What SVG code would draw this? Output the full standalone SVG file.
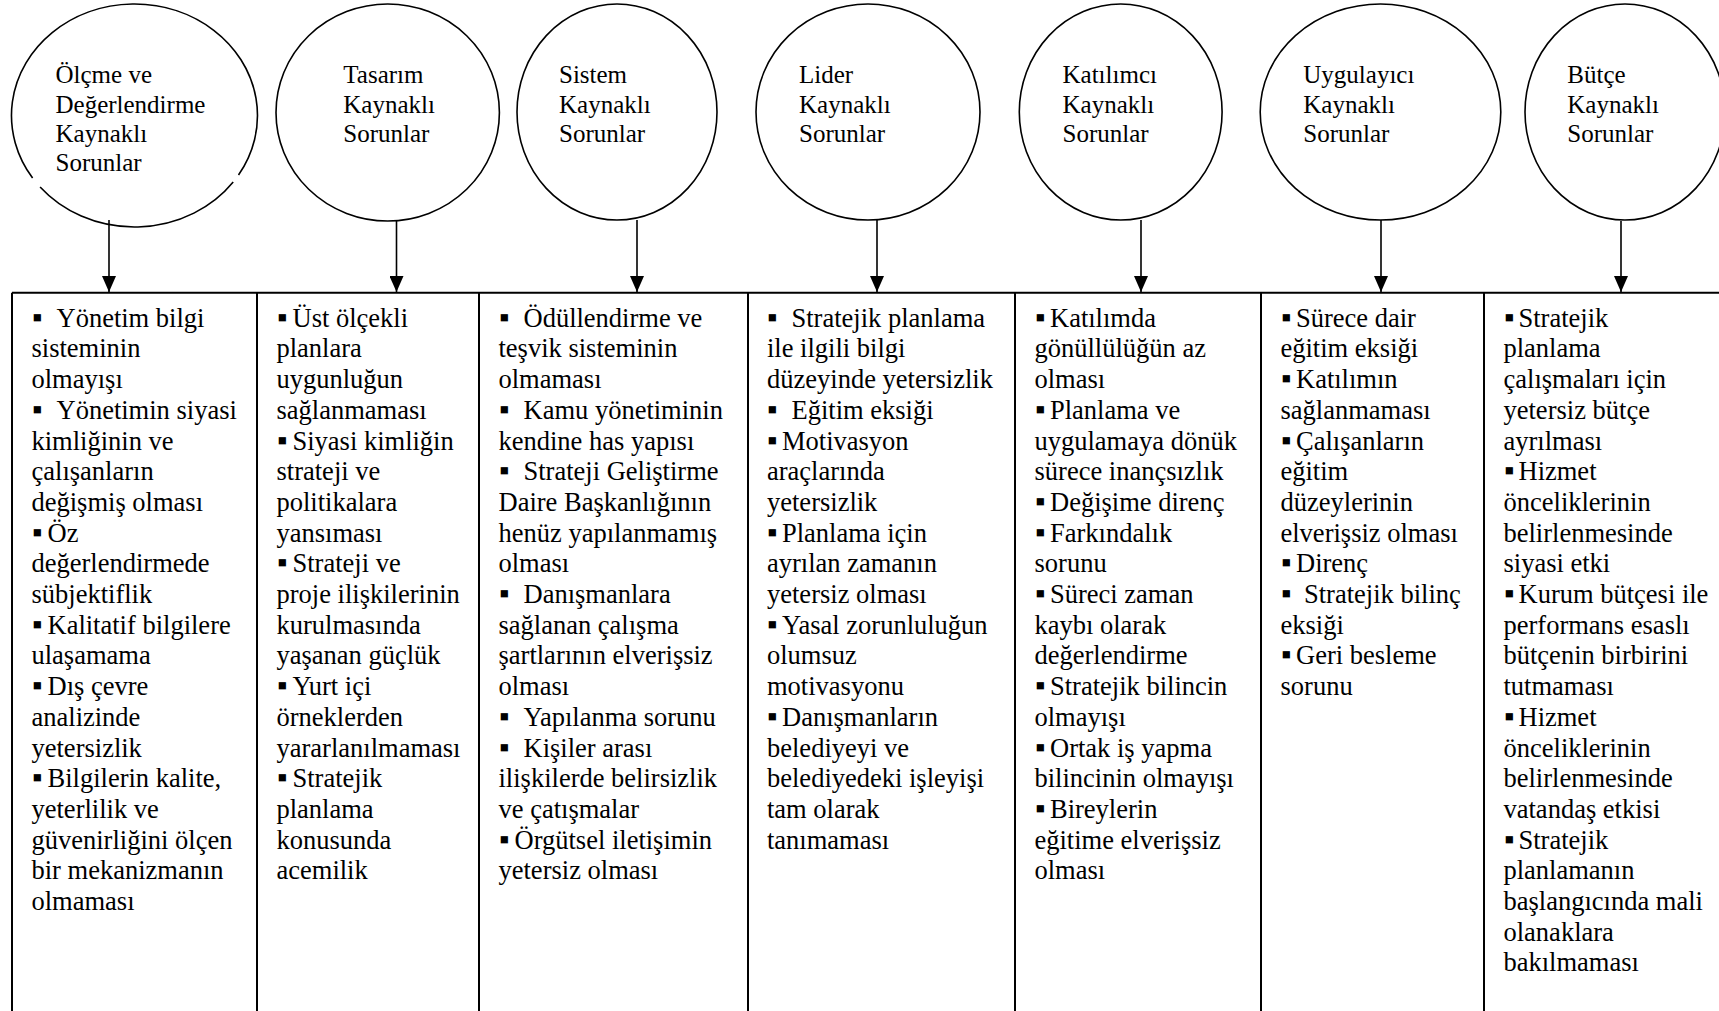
<svg xmlns="http://www.w3.org/2000/svg" width="1719" height="1011" viewBox="0 0 1719 1011">
<style>
.bg{fill:#fff}
.circ{fill:none;stroke:#000;stroke-width:1.6}
.grid{stroke:#000;stroke-width:2;fill:none}
.conn{stroke:#000;stroke-width:1.6;fill:none}
.c{font-family:"Liberation Serif","Times New Roman",serif;font-size:25px;fill:#000}
.t{font-family:"Liberation Serif","Times New Roman",serif;font-size:26.5px;fill:#000}
.bu{font-size:29px}
</style>
<defs>
<marker id="ah" markerUnits="userSpaceOnUse" viewBox="0 0 16 14" markerWidth="16" markerHeight="14" refX="16" refY="7" orient="auto">
<path d="M0,0 L16,7 L0,14 Z" fill="#000"/>
</marker>
</defs>
<rect class="bg" x="0" y="0" width="1719" height="1011"/>

<g id="node-olcme">
<path class="circ" d="M32.6,178 A123,111.5 0 1 1 238.5,175 M233.2,182 A123,111.5 0 0 1 40.1,187"/>
<text class="c"><tspan x="55.5" y="83">Ölçme ve</tspan><tspan x="55.5" y="112.5">Değerlendirme</tspan><tspan x="55.5" y="142">Kaynaklı</tspan><tspan x="55.5" y="171">Sorunlar</tspan></text>
</g>
<g id="node-tasarim">
<ellipse class="circ" cx="387.7" cy="112.5" rx="111.7" ry="108.5"/>
<text class="c"><tspan x="343.3" y="83">Tasarım</tspan><tspan x="343.3" y="112.5">Kaynaklı</tspan><tspan x="343.3" y="142">Sorunlar</tspan></text>
</g>
<g id="node-sistem">
<ellipse class="circ" cx="617" cy="112" rx="100" ry="108"/>
<text class="c"><tspan x="559" y="83">Sistem</tspan><tspan x="559" y="112.5">Kaynaklı</tspan><tspan x="559" y="142">Sorunlar</tspan></text>
</g>
<g id="node-lider">
<ellipse class="circ" cx="868" cy="112" rx="112" ry="108"/>
<text class="c"><tspan x="799" y="83">Lider</tspan><tspan x="799" y="112.5">Kaynaklı</tspan><tspan x="799" y="142">Sorunlar</tspan></text>
</g>
<g id="node-katilimci">
<ellipse class="circ" cx="1120.7" cy="112" rx="101.4" ry="108"/>
<text class="c"><tspan x="1062.5" y="83">Katılımcı</tspan><tspan x="1062.5" y="112.5">Kaynaklı</tspan><tspan x="1062.5" y="142">Sorunlar</tspan></text>
</g>
<g id="node-uygulayici">
<ellipse class="circ" cx="1380.5" cy="112" rx="120.3" ry="108"/>
<text class="c"><tspan x="1303.3" y="83">Uygulayıcı</tspan><tspan x="1303.3" y="112.5">Kaynaklı</tspan><tspan x="1303.3" y="142">Sorunlar</tspan></text>
</g>
<g id="node-butce">
<ellipse class="circ" cx="1625" cy="112" rx="100" ry="108"/>
<text class="c"><tspan x="1567.3" y="83">Bütçe</tspan><tspan x="1567.3" y="112.5">Kaynaklı</tspan><tspan x="1567.3" y="142">Sorunlar</tspan></text>
</g>

<g id="connectors">
<line class="conn" x1="109" y1="220" x2="109" y2="292" marker-end="url(#ah)"/>
<line class="conn" x1="396.5" y1="221" x2="396.5" y2="292" marker-end="url(#ah)"/>
<line class="conn" x1="637" y1="220" x2="637" y2="292" marker-end="url(#ah)"/>
<line class="conn" x1="877" y1="220" x2="877" y2="292" marker-end="url(#ah)"/>
<line class="conn" x1="1141" y1="220" x2="1141" y2="292" marker-end="url(#ah)"/>
<line class="conn" x1="1381" y1="220" x2="1381" y2="292" marker-end="url(#ah)"/>
<line class="conn" x1="1621" y1="221" x2="1621" y2="292" marker-end="url(#ah)"/>
</g>

<g id="table-frame">
<path class="grid" d="M12,292.7 H1719 M12,292.7 V1011 M257,292.7 V1011 M479,292.7 V1011 M748,292.7 V1011 M1015,292.7 V1011 M1261,292.7 V1011 M1484,292.7 V1011"/>
</g>

<g id="cell-olcme">
<text class="t">
<tspan class="bu" x="32" y="326.7">▪</tspan><tspan x="56.5" y="326.7">Yönetim bilgi</tspan>
<tspan x="31.5" y="357.4">sisteminin</tspan>
<tspan x="31.5" y="388.1">olmayışı</tspan>
<tspan class="bu" x="32" y="418.8">▪</tspan><tspan x="56.5" y="418.8">Yönetimin siyasi</tspan>
<tspan x="31.5" y="449.5">kimliğinin ve</tspan>
<tspan x="31.5" y="480.2">çalışanların</tspan>
<tspan x="31.5" y="510.9">değişmiş olması</tspan>
<tspan class="bu" x="32" y="541.6">▪</tspan><tspan x="47.5" y="541.6">Öz</tspan>
<tspan x="31.5" y="572.3">değerlendirmede</tspan>
<tspan x="31.5" y="603">sübjektiflik</tspan>
<tspan class="bu" x="32" y="633.7">▪</tspan><tspan x="47.5" y="633.7">Kalitatif bilgilere</tspan>
<tspan x="31.5" y="664.4">ulaşamama</tspan>
<tspan class="bu" x="32" y="695.1">▪</tspan><tspan x="47.5" y="695.1">Dış çevre</tspan>
<tspan x="31.5" y="725.8">analizinde</tspan>
<tspan x="31.5" y="756.5">yetersizlik</tspan>
<tspan class="bu" x="32" y="787.2">▪</tspan><tspan x="47.5" y="787.2">Bilgilerin kalite,</tspan>
<tspan x="31.5" y="817.9">yeterlilik ve</tspan>
<tspan x="31.5" y="848.6">güvenirliğini ölçen</tspan>
<tspan x="31.5" y="879.3">bir mekanizmanın</tspan>
<tspan x="31.5" y="910">olmaması</tspan>
</text>
</g>

<g id="cell-tasarim">
<text class="t">
<tspan class="bu" x="277" y="326.7">▪</tspan><tspan x="292.5" y="326.7">Üst ölçekli</tspan>
<tspan x="276.5" y="357.4">planlara</tspan>
<tspan x="276.5" y="388.1">uygunluğun</tspan>
<tspan x="276.5" y="418.8">sağlanmaması</tspan>
<tspan class="bu" x="277" y="449.5">▪</tspan><tspan x="292.5" y="449.5">Siyasi kimliğin</tspan>
<tspan x="276.5" y="480.2">strateji ve</tspan>
<tspan x="276.5" y="510.9">politikalara</tspan>
<tspan x="276.5" y="541.6">yansıması</tspan>
<tspan class="bu" x="277" y="572.3">▪</tspan><tspan x="292.5" y="572.3">Strateji ve</tspan>
<tspan x="276.5" y="603">proje ilişkilerinin</tspan>
<tspan x="276.5" y="633.7">kurulmasında</tspan>
<tspan x="276.5" y="664.4">yaşanan güçlük</tspan>
<tspan class="bu" x="277" y="695.1">▪</tspan><tspan x="292.5" y="695.1">Yurt içi</tspan>
<tspan x="276.5" y="725.8">örneklerden</tspan>
<tspan x="276.5" y="756.5">yararlanılmaması</tspan>
<tspan class="bu" x="277" y="787.2">▪</tspan><tspan x="292.5" y="787.2">Stratejik</tspan>
<tspan x="276.5" y="817.9">planlama</tspan>
<tspan x="276.5" y="848.6">konusunda</tspan>
<tspan x="276.5" y="879.3">acemilik</tspan>
</text>
</g>

<g id="cell-sistem">
<text class="t">
<tspan class="bu" x="499" y="326.7">▪</tspan><tspan x="523.5" y="326.7">Ödüllendirme ve</tspan>
<tspan x="498.5" y="357.4">teşvik sisteminin</tspan>
<tspan x="498.5" y="388.1">olmaması</tspan>
<tspan class="bu" x="499" y="418.8">▪</tspan><tspan x="523.5" y="418.8">Kamu yönetiminin</tspan>
<tspan x="498.5" y="449.5">kendine has yapısı</tspan>
<tspan class="bu" x="499" y="480.2">▪</tspan><tspan x="523.5" y="480.2">Strateji Geliştirme</tspan>
<tspan x="498.5" y="510.9">Daire Başkanlığının</tspan>
<tspan x="498.5" y="541.6">henüz yapılanmamış</tspan>
<tspan x="498.5" y="572.3">olması</tspan>
<tspan class="bu" x="499" y="603">▪</tspan><tspan x="523.5" y="603">Danışmanlara</tspan>
<tspan x="498.5" y="633.7">sağlanan çalışma</tspan>
<tspan x="498.5" y="664.4">şartlarının elverişsiz</tspan>
<tspan x="498.5" y="695.1">olması</tspan>
<tspan class="bu" x="499" y="725.8">▪</tspan><tspan x="523.5" y="725.8">Yapılanma sorunu</tspan>
<tspan class="bu" x="499" y="756.5">▪</tspan><tspan x="523.5" y="756.5">Kişiler arası</tspan>
<tspan x="498.5" y="787.2">ilişkilerde belirsizlik</tspan>
<tspan x="498.5" y="817.9">ve çatışmalar</tspan>
<tspan class="bu" x="499" y="848.6">▪</tspan><tspan x="514.5" y="848.6">Örgütsel iletişimin</tspan>
<tspan x="498.5" y="879.3">yetersiz olması</tspan>
</text>
</g>

<g id="cell-lider">
<text class="t">
<tspan class="bu" x="767" y="326.7">▪</tspan><tspan x="791.5" y="326.7">Stratejik planlama</tspan>
<tspan x="767" y="357.4">ile ilgili bilgi</tspan>
<tspan x="767" y="388.1">düzeyinde yetersizlik</tspan>
<tspan class="bu" x="767" y="418.8">▪</tspan><tspan x="791.5" y="418.8">Eğitim eksiği</tspan>
<tspan class="bu" x="767" y="449.5">▪</tspan><tspan x="782" y="449.5">Motivasyon</tspan>
<tspan x="767" y="480.2">araçlarında</tspan>
<tspan x="767" y="510.9">yetersizlik</tspan>
<tspan class="bu" x="767" y="541.6">▪</tspan><tspan x="782" y="541.6">Planlama için</tspan>
<tspan x="767" y="572.3">ayrılan zamanın</tspan>
<tspan x="767" y="603">yetersiz olması</tspan>
<tspan class="bu" x="767" y="633.7">▪</tspan><tspan x="782" y="633.7">Yasal zorunluluğun</tspan>
<tspan x="767" y="664.4">olumsuz</tspan>
<tspan x="767" y="695.1">motivasyonu</tspan>
<tspan class="bu" x="767" y="725.8">▪</tspan><tspan x="782" y="725.8">Danışmanların</tspan>
<tspan x="767" y="756.5">belediyeyi ve</tspan>
<tspan x="767" y="787.2">belediyedeki işleyişi</tspan>
<tspan x="767" y="817.9">tam olarak</tspan>
<tspan x="767" y="848.6">tanımaması</tspan>
</text>
</g>

<g id="cell-katilimci">
<text class="t">
<tspan class="bu" x="1035" y="326.7">▪</tspan><tspan x="1050" y="326.7">Katılımda</tspan>
<tspan x="1034.5" y="357.4">gönüllülüğün az</tspan>
<tspan x="1034.5" y="388.1">olması</tspan>
<tspan class="bu" x="1035" y="418.8">▪</tspan><tspan x="1050" y="418.8">Planlama ve</tspan>
<tspan x="1034.5" y="449.5">uygulamaya dönük</tspan>
<tspan x="1034.5" y="480.2">sürece inançsızlık</tspan>
<tspan class="bu" x="1035" y="510.9">▪</tspan><tspan x="1050" y="510.9">Değişime direnç</tspan>
<tspan class="bu" x="1035" y="541.6">▪</tspan><tspan x="1050" y="541.6">Farkındalık</tspan>
<tspan x="1034.5" y="572.3">sorunu</tspan>
<tspan class="bu" x="1035" y="603">▪</tspan><tspan x="1050" y="603">Süreci zaman</tspan>
<tspan x="1034.5" y="633.7">kaybı olarak</tspan>
<tspan x="1034.5" y="664.4">değerlendirme</tspan>
<tspan class="bu" x="1035" y="695.1">▪</tspan><tspan x="1050" y="695.1">Stratejik bilincin</tspan>
<tspan x="1034.5" y="725.8">olmayışı</tspan>
<tspan class="bu" x="1035" y="756.5">▪</tspan><tspan x="1050" y="756.5">Ortak iş yapma</tspan>
<tspan x="1034.5" y="787.2">bilincinin olmayışı</tspan>
<tspan class="bu" x="1035" y="817.9">▪</tspan><tspan x="1050" y="817.9">Bireylerin</tspan>
<tspan x="1034.5" y="848.6">eğitime elverişsiz</tspan>
<tspan x="1034.5" y="879.3">olması</tspan>
</text>
</g>

<g id="cell-uygulayici">
<text class="t">
<tspan class="bu" x="1281" y="326.7">▪</tspan><tspan x="1296" y="326.7">Sürece dair</tspan>
<tspan x="1280.5" y="357.4">eğitim eksiği</tspan>
<tspan class="bu" x="1281" y="388.1">▪</tspan><tspan x="1296" y="388.1">Katılımın</tspan>
<tspan x="1280.5" y="418.8">sağlanmaması</tspan>
<tspan class="bu" x="1281" y="449.5">▪</tspan><tspan x="1296" y="449.5">Çalışanların</tspan>
<tspan x="1280.5" y="480.2">eğitim</tspan>
<tspan x="1280.5" y="510.9">düzeylerinin</tspan>
<tspan x="1280.5" y="541.6">elverişsiz olması</tspan>
<tspan class="bu" x="1281" y="572.3">▪</tspan><tspan x="1296" y="572.3">Direnç</tspan>
<tspan class="bu" x="1281" y="603">▪</tspan><tspan x="1304" y="603">Stratejik bilinç</tspan>
<tspan x="1280.5" y="633.7">eksiği</tspan>
<tspan class="bu" x="1281" y="664.4">▪</tspan><tspan x="1296" y="664.4">Geri besleme</tspan>
<tspan x="1280.5" y="695.1">sorunu</tspan>
</text>
</g>

<g id="cell-butce">
<text class="t">
<tspan class="bu" x="1504" y="326.7">▪</tspan><tspan x="1518.5" y="326.7">Stratejik</tspan>
<tspan x="1503.5" y="357.4">planlama</tspan>
<tspan x="1503.5" y="388.1">çalışmaları için</tspan>
<tspan x="1503.5" y="418.8">yetersiz bütçe</tspan>
<tspan x="1503.5" y="449.5">ayrılması</tspan>
<tspan class="bu" x="1504" y="480.2">▪</tspan><tspan x="1518.5" y="480.2">Hizmet</tspan>
<tspan x="1503.5" y="510.9">önceliklerinin</tspan>
<tspan x="1503.5" y="541.6">belirlenmesinde</tspan>
<tspan x="1503.5" y="572.3">siyasi etki</tspan>
<tspan class="bu" x="1504" y="603">▪</tspan><tspan x="1518.5" y="603">Kurum bütçesi ile</tspan>
<tspan x="1503.5" y="633.7">performans esaslı</tspan>
<tspan x="1503.5" y="664.4">bütçenin birbirini</tspan>
<tspan x="1503.5" y="695.1">tutmaması</tspan>
<tspan class="bu" x="1504" y="725.8">▪</tspan><tspan x="1518.5" y="725.8">Hizmet</tspan>
<tspan x="1503.5" y="756.5">önceliklerinin</tspan>
<tspan x="1503.5" y="787.2">belirlenmesinde</tspan>
<tspan x="1503.5" y="817.9">vatandaş etkisi</tspan>
<tspan class="bu" x="1504" y="848.6">▪</tspan><tspan x="1518.5" y="848.6">Stratejik</tspan>
<tspan x="1503.5" y="879.3">planlamanın</tspan>
<tspan x="1503.5" y="910">başlangıcında mali</tspan>
<tspan x="1503.5" y="940.7">olanaklara</tspan>
<tspan x="1503.5" y="971.4">bakılmaması</tspan>
</text>
</g>
</svg>
